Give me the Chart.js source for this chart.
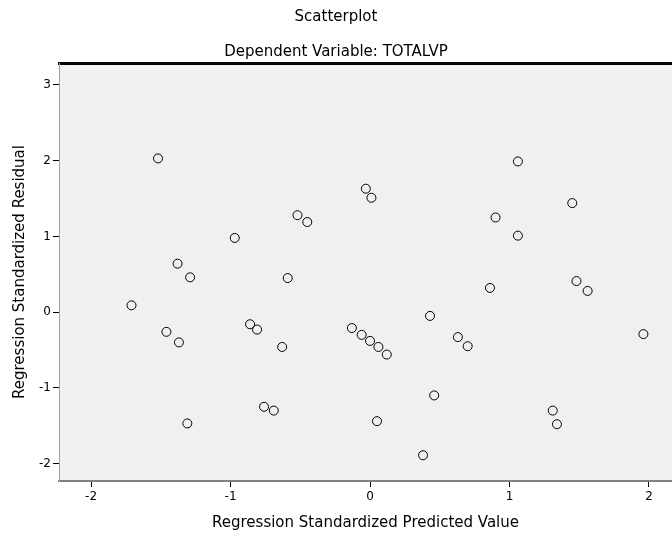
<!DOCTYPE html>
<html>
<head>
<meta charset="utf-8">
<script src="https://cdn.jsdelivr.net/npm/chart.js@4/dist/chart.umd.min.js"></script>
<style>
  html, body { margin: 0; padding: 0; background: #fff; }
  #wrap { width: 672px; height: 535px; }
</style>
</head>
<body>
<div id="wrap"><canvas id="residChart" width="672" height="535"></canvas></div>
<script>
// standardized predicted value (x) vs standardized residual (y)
const predicted = [
  -1.52, 1.06, -0.03, 0.01, 1.45, -0.52, -0.45, 0.90, -0.97, 1.06,
  -1.38, -1.29, -0.59, 0.86, 1.48, 1.56, -1.71, 0.43, -1.46, -1.37,
  -0.86, -0.81, -0.13, -0.06, 0.00, 0.06, 0.12, 0.63, 0.70, 1.96,
  -0.63, 0.46, -0.76, -0.69, -1.31, 0.05, 1.31, 1.34, 0.38
];
const residual = [
  2.03, 1.99, 1.63, 1.51, 1.44, 1.28, 1.19, 1.25, 0.98, 1.01,
  0.64, 0.46, 0.45, 0.32, 0.41, 0.28, 0.09, -0.05, -0.26, -0.40,
  -0.16, -0.23, -0.21, -0.30, -0.38, -0.46, -0.56, -0.33, -0.45, -0.29,
  -0.46, -1.10, -1.25, -1.30, -1.47, -1.44, -1.30, -1.48, -1.89
];
const xTicks = [-2, -1, 0, 1, 2];
const yTicks = [-2, -1, 0, 1, 2, 3];

const plotBg = {
  id: "plotBg",
  beforeDraw(chart) {
    const a = chart.chartArea;
    const ctx = chart.ctx;
    ctx.save();
    ctx.fillStyle = "#f0f0f0";
    ctx.fillRect(a.left, a.top, a.right - a.left, a.bottom - a.top);
    ctx.restore();
  }
};

const font = "'DejaVu Sans', Arial, sans-serif";

new Chart(document.getElementById("residChart").getContext("2d"), {
  type: "scatter",
  data: {
    datasets: [{
      data: predicted.map((x, i) => ({ x: x, y: residual[i] })),
      pointRadius: 4.5,
      pointHoverRadius: 4.5,
      pointBorderWidth: 1,
      pointBorderColor: "#000",
      pointBackgroundColor: "rgba(0,0,0,0)"
    }]
  },
  plugins: [plotBg],
  options: {
    responsive: false,
    animation: false,
    layout: { autoPadding: false, padding: 0 },
    plugins: {
      legend: { display: false },
      tooltip: { enabled: false },
      title: {
        display: true,
        text: "Scatterplot",
        color: "#000",
        font: { family: font, size: 15, weight: "normal" },
        padding: { top: 8, bottom: 0 }
      },
      subtitle: {
        display: true,
        text: "Dependent Variable: TOTALVP",
        color: "#000",
        font: { family: font, size: 15, weight: "normal" },
        padding: { top: 17, bottom: 2 }
      }
    },
    scales: {
      x: {
        type: "linear",
        position: "bottom",
        min: -2.23,
        max: 2.165,
        afterBuildTicks: s => { s.ticks = xTicks.map(v => ({ value: v })); },
        afterFit: s => { s.height = 54; s.paddingLeft = 0; s.paddingRight = 0; },
        ticks: { color: "#000", padding: 3, font: { family: font, size: 12 } },
        grid: { display: true, drawOnChartArea: false, drawTicks: true, tickLength: 6, color: "#000" },
        border: { display: true, color: "#808080", width: 2 },
        title: {
          display: true,
          text: "Regression Standardized Predicted Value",
          color: "#000",
          font: { family: font, size: 15 },
          padding: { top: 3, bottom: 3 }
        }
      },
      xTop: {
        type: "linear",
        position: "top",
        min: -2.23,
        max: 2.165,
        afterFit: s => { s.height = 0; s.paddingLeft = 0; s.paddingRight = 0; },
        ticks: { display: false },
        grid: { display: false, drawTicks: false },
        border: { display: true, color: "#000", width: 3 }
      },
      y: {
        type: "linear",
        position: "left",
        min: -2.23,
        max: 3.29,
        afterBuildTicks: s => { s.ticks = yTicks.map(v => ({ value: v })); },
        afterFit: s => { s.width = 59; },
        ticks: { color: "#000", padding: 2, font: { family: font, size: 12 } },
        grid: { display: true, drawOnChartArea: false, drawTicks: true, tickLength: 6, color: "#000" },
        border: { display: true, color: "#a0a0a0", width: 1 },
        title: {
          display: true,
          text: "Regression Standardized Residual",
          color: "#000",
          font: { family: font, size: 15 },
          padding: { top: 11, bottom: 3 }
        }
      }
    }
  }
});
</script>
</body>
</html>
